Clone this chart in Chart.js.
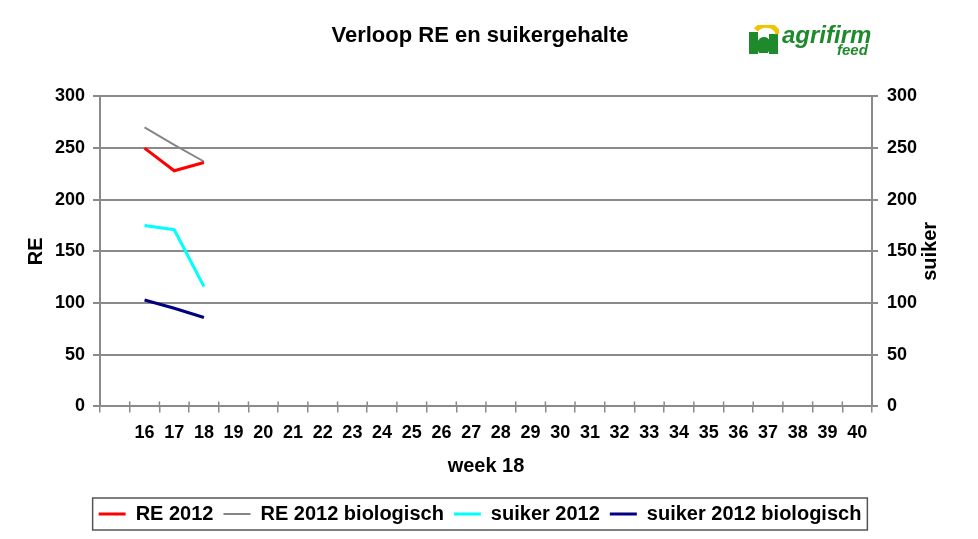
<!DOCTYPE html>
<html>
<head>
<meta charset="utf-8">
<title>Verloop RE en suikergehalte</title>
<script src="https://cdn.jsdelivr.net/npm/chart.js@4.4.1/dist/chart.umd.min.js"></script>
<style>
	html, body { margin: 0; padding: 0; background: #fff; }
	#wrap { position: relative; width: 978px; height: 539px; }
	#logo { position: absolute; left: 749px; top: 24px; width: 130px; height: 36px; }
	#logo svg { position: absolute; left: 0; top: 1px; }
	#logo .name { position: absolute; left: 33px; top: -3px; font: italic bold 24px "Liberation Sans", Arial, sans-serif; color: #1f8a2c; }
	#logo .sub { position: absolute; left: 88px; top: 17px; font: italic bold 15px "Liberation Sans", Arial, sans-serif; color: #1f8a2c; }
</style>
</head>
<body>
<div id="wrap">
	<canvas id="chart"></canvas>
	<div id="logo">
		<svg width="30" height="30" viewBox="0 0 30 30">
			<rect x="0" y="7" width="9" height="22" fill="#1f8a2c"/>
			<rect x="20" y="9" width="9" height="20" fill="#1f8a2c"/>
			<path d="M10 28 C5 18 10 12 15 12 C21 12 24 19 19 28 Z" fill="#1f8a2c"/>
			<path d="M7 5 A12 10 0 0 1 29 9" stroke="#f2c400" stroke-width="5" fill="none"/>
		</svg>
		<span class="name">agrifirm</span>
		<span class="sub">feed</span>
	</div>
</div>
<script>
// --- Data ---
const weeks = ['', '16', '17', '18', '19', '20', '21', '22', '23', '24', '25', '26', '27', '28',
	'29', '30', '31', '32', '33', '34', '35', '36', '37', '38', '39', '40'];
const re2012 = [null, 250, 228, 236];
const re2012Bio = [null, 270, 253, 237];
const suiker2012 = [null, 175, 171, 116];
const suiker2012Bio = [null, 103, 95, 86];
const axisTicks = [0, 50, 100, 150, 200, 250, 300];

const FONT = '"Liberation Sans", Arial, sans-serif';
const GRID = '#8a8a8a';

// Extra drawing: legend frame, upper half of x tick marks, right axis title
const extras = {
	id: 'extras',
	afterDraw(chart) {
		const { ctx, chartArea, legend } = chart;
		const x = chart.scales.x;
		ctx.save();

		// tick marks cross the x axis
		ctx.strokeStyle = GRID;
		ctx.lineWidth = 1.5;
		for (let i = 1; i < weeks.length; i++) {
			const px = (x.getPixelForValue(i - 1) + x.getPixelForValue(i)) / 2;
			ctx.beginPath();
			ctx.moveTo(px, chartArea.bottom - 5);
			ctx.lineTo(px, chartArea.bottom);
			ctx.stroke();
		}

		// frame round the legend
		const boxes = legend.legendHitBoxes;
		if (boxes && boxes.length) {
			const first = boxes[0];
			const last = boxes[boxes.length - 1];
			const left = first.left - 6;
			const right = last.left + last.width + 6;
			const top = first.top - 6;
			const bottom = first.top + first.height + 6;
			ctx.strokeStyle = '#555';
			ctx.lineWidth = 1.5;
			ctx.strokeRect(left, top, right - left, bottom - top);
		}

		// right axis title, reading bottom to top
		ctx.fillStyle = '#000';
		ctx.font = 'bold 20px ' + FONT;
		ctx.textAlign = 'center';
		ctx.textBaseline = 'middle';
		ctx.translate(930, (chartArea.top + chartArea.bottom) / 2);
		ctx.rotate(-Math.PI / 2);
		ctx.fillText('suiker', 0, 0);
		ctx.restore();
	}
};

const ctx = document.getElementById('chart').getContext('2d');
new Chart(ctx, {
	type: 'line',
	data: {
		labels: weeks,
		datasets: [
			{ label: 'RE 2012', data: re2012, borderColor: '#ff0000', backgroundColor: '#ff0000', borderWidth: 3, yAxisID: 'y' },
			{ label: 'RE 2012 biologisch', data: re2012Bio, borderColor: '#858585', backgroundColor: '#858585', borderWidth: 2, yAxisID: 'y' },
			{ label: 'suiker 2012', data: suiker2012, borderColor: '#00ffff', backgroundColor: '#00ffff', borderWidth: 3, yAxisID: 'y1' },
			{ label: 'suiker 2012 biologisch', data: suiker2012Bio, borderColor: '#000080', backgroundColor: '#000080', borderWidth: 3, yAxisID: 'y1' }
		]
	},
	options: {
		responsive: true,
		maintainAspectRatio: false,
		animation: false,
		layout: { padding: { top: 0, left: 0, right: 18, bottom: 5 } },
		elements: {
			point: { radius: 0, hoverRadius: 0 },
			line: { tension: 0 }
		},
		scales: {
			x: {
				offset: true,
				grid: { offset: true, drawOnChartArea: false, drawTicks: true, tickLength: 6, color: GRID, lineWidth: 1.5 },
				border: { color: GRID, width: 2 },
				ticks: { color: '#000', font: { family: FONT, size: 18, weight: 'bold' }, padding: 10, maxRotation: 0, autoSkip: false },
				title: { display: true, text: 'week 18', color: '#000', font: { family: FONT, size: 20, weight: 'bold' }, padding: { top: 0, bottom: 16 } }
			},
			y: {
				position: 'left',
				min: 0,
				max: 300,
				afterBuildTicks: (scale) => { scale.ticks = axisTicks.map(v => ({ value: v })); },
				afterFit: (scale) => { scale.width = 100; },
				grid: { color: GRID, lineWidth: 2, tickLength: 7 },
				border: { color: GRID, width: 2 },
				ticks: { color: '#000', font: { family: FONT, size: 18, weight: 'bold' }, padding: 8 },
				title: { display: true, text: 'RE', color: '#000', font: { family: FONT, size: 20, weight: 'bold' }, padding: { top: 24, bottom: 0 } }
			},
			y1: {
				position: 'right',
				min: 0,
				max: 300,
				afterBuildTicks: (scale) => { scale.ticks = axisTicks.map(v => ({ value: v })); },
				afterFit: (scale) => { scale.width = 88; },
				grid: { drawOnChartArea: false, color: GRID, lineWidth: 2, tickLength: 6 },
				border: { color: GRID, width: 2 },
				ticks: { color: '#000', font: { family: FONT, size: 18, weight: 'bold' }, padding: 9 }
			}
		},
		plugins: {
			title: {
				display: true,
				text: 'Verloop RE en suikergehalte',
				color: '#000',
				font: { family: FONT, size: 22, weight: 'bold' },
				padding: { top: 23, bottom: 47 }
			},
			legend: {
				position: 'bottom',
				labels: {
					color: '#000',
					font: { family: FONT, size: 20, weight: 'bold' },
					usePointStyle: true,
					pointStyle: 'line',
					pointStyleWidth: 27,
					boxHeight: 20,
					padding: 10
				}
			},
			tooltip: { enabled: false }
		}
	},
	plugins: [extras]
});
</script>
</body>
</html>
